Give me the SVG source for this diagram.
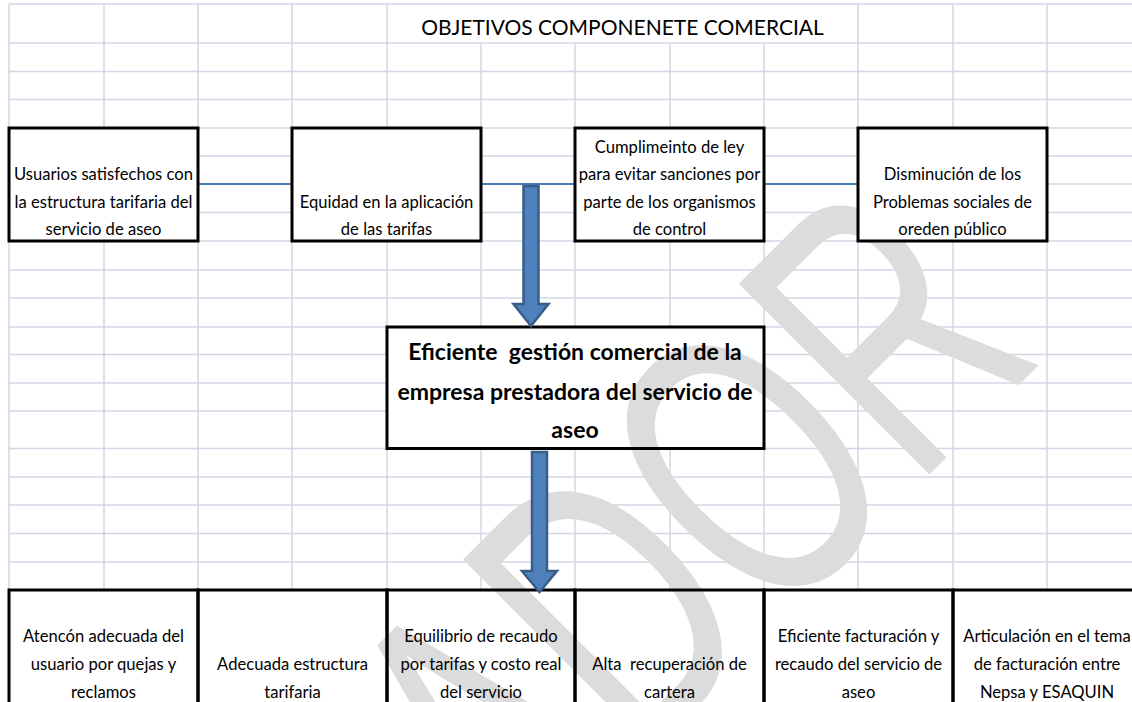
<svg xmlns="http://www.w3.org/2000/svg" width="1132" height="702" viewBox="0 0 1132 702">
  <style>
    .grid line { stroke: #d0d7e5; stroke-width: 1.5; }
    .fill { fill: #ffffff; }
    .box { fill: none; stroke: #000000; stroke-width: 3; }
    .boxw { fill: #ffffff; stroke: #000000; stroke-width: 3; }
    .t { font-family: Lato, "Liberation Sans", sans-serif; font-size: 16.6px; fill: #000000; text-anchor: middle; white-space: pre; }
    .title { font-family: Lato, "Liberation Sans", sans-serif; font-size: 21px; fill: #000000; text-anchor: middle; }
    .b { font-family: Lato, "Liberation Sans", sans-serif; font-size: 23px; font-weight: bold; fill: #000000; text-anchor: middle; white-space: pre; }
    .conn { stroke: #4a7ebb; stroke-width: 2; fill: none; }
    .barrow { fill: #4f81bd; stroke: #385d8a; stroke-width: 2.5; stroke-linejoin: miter; }
    .wm { font-family: "Liberation Sans", sans-serif; font-size: 400px; fill: #dcdcdc; }
  </style>

  <rect x="0" y="0" width="1132" height="702" fill="#ffffff"/>

  <g id="grid" class="grid">
    <line x1="9" y1="4" x2="1132" y2="4"/>
    <line x1="9" y1="43" x2="1132" y2="43"/>
    <line x1="9" y1="71.5" x2="1132" y2="71.5"/>
    <line x1="9" y1="99.5" x2="1132" y2="99.5"/>
    <line x1="9" y1="128" x2="1132" y2="128"/>
    <line x1="9" y1="156" x2="1132" y2="156"/>
    <line x1="9" y1="184" x2="1132" y2="184"/>
    <line x1="9" y1="212.5" x2="1132" y2="212.5"/>
    <line x1="9" y1="241" x2="1132" y2="241"/>
    <line x1="9" y1="270" x2="1132" y2="270"/>
    <line x1="9" y1="298" x2="1132" y2="298"/>
    <line x1="9" y1="327" x2="1132" y2="327"/>
    <line x1="9" y1="354.5" x2="1132" y2="354.5"/>
    <line x1="9" y1="383" x2="1132" y2="383"/>
    <line x1="9" y1="411" x2="1132" y2="411"/>
    <line x1="9" y1="448.5" x2="1132" y2="448.5"/>
    <line x1="9" y1="477" x2="1132" y2="477"/>
    <line x1="9" y1="505" x2="1132" y2="505"/>
    <line x1="9" y1="533.5" x2="1132" y2="533.5"/>
    <line x1="9" y1="562" x2="1132" y2="562"/>
    <line x1="9" y1="4" x2="9" y2="590"/>
    <line x1="104" y1="4" x2="104" y2="590"/>
    <line x1="198" y1="4" x2="198" y2="590"/>
    <line x1="292" y1="4" x2="292" y2="590"/>
    <line x1="387" y1="4" x2="387" y2="590"/>
    <line x1="481" y1="43" x2="481" y2="590"/>
    <line x1="575" y1="43" x2="575" y2="590"/>
    <line x1="670" y1="43" x2="670" y2="590"/>
    <line x1="764" y1="43" x2="764" y2="590"/>
    <line x1="858" y1="4" x2="858" y2="590"/>
    <line x1="953" y1="4" x2="953" y2="590"/>
    <line x1="1047" y1="4" x2="1047" y2="590"/>
  </g>

  <g id="cell-fills" class="fill">
    <rect x="387" y="327" width="377" height="121.5"/>
    <rect x="9" y="590" width="1123" height="112"/>
  </g>

  <g id="watermark">
    <text class="wm" transform="translate(516,888) rotate(-45) scale(0.65,0.98)">ADOR</text>
  </g>

  <g id="title">
    <text class="title" x="622.5" y="35">OBJETIVOS COMPONENETE COMERCIAL</text>
  </g>

  <g id="connectors">
    <line class="conn" x1="199" y1="184" x2="292" y2="184"/>
    <line class="conn" x1="482" y1="184" x2="575" y2="184"/>
    <line class="conn" x1="765" y1="184" x2="858" y2="184"/>
  </g>

  <g id="node-usuarios">
    <rect class="boxw" x="9" y="128" width="189" height="113"/>
    <text class="t" x="103.5" y="180">Usuarios satisfechos con</text>
    <text class="t" x="103.5" y="208">la estructura tarifaria del</text>
    <text class="t" x="103.5" y="235">servicio de aseo</text>
  </g>

  <g id="node-equidad">
    <rect class="boxw" x="292" y="128" width="189" height="113"/>
    <text class="t" x="386.5" y="207.5">Equidad en la aplicación</text>
    <text class="t" x="386.5" y="235">de las tarifas</text>
  </g>

  <g id="node-cumplimiento">
    <rect class="boxw" x="575" y="128" width="189" height="113"/>
    <text class="t" x="669.5" y="153">Cumplimeinto de ley</text>
    <text class="t" x="669.5" y="180">para evitar sanciones por</text>
    <text class="t" x="669.5" y="207.5">parte de los organismos</text>
    <text class="t" x="669.5" y="235">de control</text>
  </g>

  <g id="node-disminucion">
    <rect class="boxw" x="858" y="128" width="189" height="113"/>
    <text class="t" x="952.5" y="180">Disminución de los</text>
    <text class="t" x="952.5" y="207.5">Problemas sociales de</text>
    <text class="t" x="952.5" y="235">oreden público</text>
  </g>

  <g id="node-central">
    <rect class="box" x="387" y="327" width="377" height="121.5"/>
    <text class="b" x="575" y="360">Eficiente  gestión comercial de la</text>
    <text class="b" x="575" y="400">empresa prestadora del servicio de</text>
    <text class="b" x="575" y="438">aseo</text>
  </g>

  <g id="node-atencion">
    <rect class="box" x="9" y="590" width="189" height="120"/>
    <text class="t" x="103.5" y="641.5">Atencón adecuada del</text>
    <text class="t" x="103.5" y="670">usuario por quejas y</text>
    <text class="t" x="103.5" y="698">reclamos</text>
  </g>

  <g id="node-estructura">
    <rect class="box" x="198" y="590" width="189" height="120"/>
    <text class="t" x="292.5" y="670">Adecuada estructura</text>
    <text class="t" x="292.5" y="698">tarifaria</text>
  </g>

  <g id="node-equilibrio">
    <rect class="box" x="387" y="590" width="188" height="120"/>
    <text class="t" x="481" y="641.5">Equilibrio de recaudo</text>
    <text class="t" x="481" y="670">por tarifas y costo real</text>
    <text class="t" x="481" y="698">del servicio</text>
  </g>

  <g id="node-cartera">
    <rect class="box" x="575" y="590" width="189" height="120"/>
    <text class="t" x="669.5" y="670">Alta  recuperación de</text>
    <text class="t" x="669.5" y="698">cartera</text>
  </g>

  <g id="node-facturacion">
    <rect class="box" x="764" y="590" width="189" height="120"/>
    <text class="t" x="858.5" y="641.5">Eficiente facturación y</text>
    <text class="t" x="858.5" y="670">recaudo del servicio de</text>
    <text class="t" x="858.5" y="698">aseo</text>
  </g>

  <g id="node-articulacion">
    <rect class="box" x="953" y="590" width="200" height="120"/>
    <text class="t" x="1047" y="641.5">Articulación en el tema</text>
    <text class="t" x="1047" y="670">de facturación entre</text>
    <text class="t" x="1047" y="698">Nepsa y ESAQUIN</text>
  </g>

  <g id="arrows">
    <path class="barrow" d="M523.5,186 L538.5,186 L538.5,304 L548.5,304 L531,326 L513.5,304 L523.5,304 Z"/>
    <path class="barrow" d="M532,452 L547,452 L547,571 L557,571 L539.5,592 L522,571 L532,571 Z"/>
  </g>
</svg>
